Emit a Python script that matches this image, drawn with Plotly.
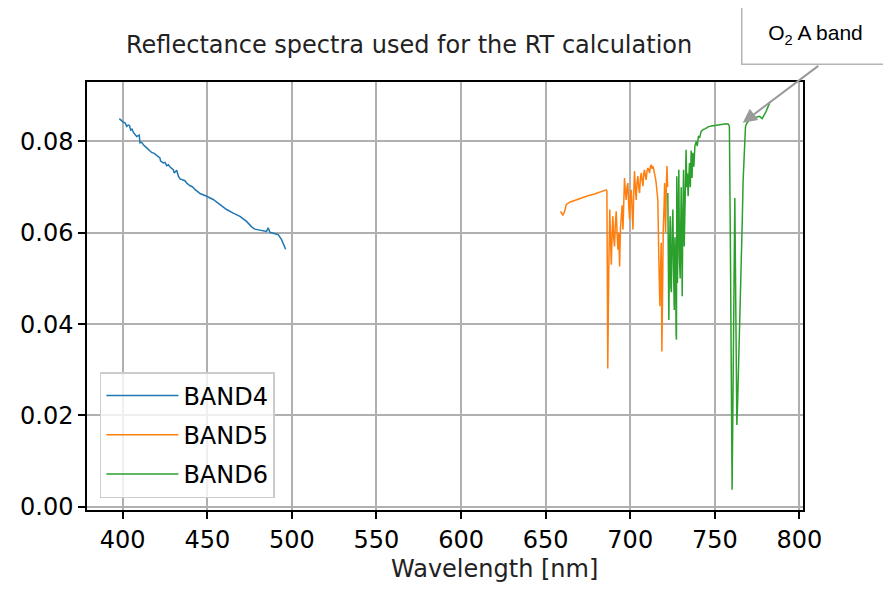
import plotly.graph_objects as go

# ---------------- data ----------------
band4_wl = [398.0, 399.4, 400.4, 401.4, 402.4, 403.2, 404.0, 404.7, 405.5, 406.3, 407.3, 408.3, 409.8, 410.2,
            411.2, 412.2, 414.2, 415.5, 417.1, 418.6, 420.1, 421.0, 422.0, 422.4, 424.0, 425.0, 426.0, 427.0,
            428.0, 429.9, 430.5, 431.9, 432.9, 433.9, 435.8, 436.8, 437.8, 439.8, 441.2, 442.7, 445.7, 447.5,
            449.6, 453.5, 457.5, 461.4, 465.3, 469.3, 473.2, 476.2, 478.1, 482.1, 485.0, 486.0, 487.0, 490.0,
            491.9, 493.9, 496.3]
band4_refl = [0.0850, 0.0844, 0.0842, 0.0841, 0.0833, 0.0836, 0.0835, 0.0825, 0.0827, 0.0820, 0.0816, 0.0811, 0.0814, 0.0797,
              0.0798, 0.0793, 0.0786, 0.0782, 0.0776, 0.0774, 0.0769, 0.0768, 0.0764, 0.0757, 0.0753, 0.0754, 0.0747, 0.0749,
              0.0744, 0.0738, 0.0731, 0.0737, 0.0724, 0.0718, 0.0716, 0.0714, 0.0709, 0.0703, 0.0701, 0.0695, 0.0686, 0.0684,
              0.0680, 0.0673, 0.0662, 0.0651, 0.0643, 0.0636, 0.0625, 0.0613, 0.0608, 0.0605, 0.0603, 0.0611, 0.0601, 0.0598,
              0.0596, 0.0585, 0.0564]

band5_wl = [658.8, 659.6, 660.2, 661.2, 662.2, 664.2, 667.0, 671.0, 675.0, 678.9, 682.5, 685.8,
            686.2, 686.7, 687.3, 687.9, 688.3, 688.8, 689.3, 689.7, 690.2, 690.7, 691.2, 691.7, 692.2, 692.7,
            693.2, 693.7, 694.2, 694.7, 695.2, 695.7, 696.2, 696.6, 697.1, 697.6, 698.1, 698.6, 699.1, 699.6,
            700.1, 700.6, 701.1, 701.6, 702.0, 702.5, 703.0, 703.5, 704.0, 704.5, 705.0, 705.5, 706.0, 706.5,
            707.0, 707.5, 708.0, 708.4, 708.9, 709.4, 709.9, 710.4, 710.9, 711.4, 711.9, 712.4, 712.9, 713.4,
            713.9, 714.4, 714.9, 715.3, 715.8, 716.3, 716.9, 717.2, 717.5, 717.9, 718.3, 718.7, 719.1, 719.5,
            720.0, 720.3, 720.6, 720.9, 721.3, 721.7, 722.1]
band5_refl = [0.0647, 0.0642, 0.0638, 0.0647, 0.0662, 0.0667, 0.0671, 0.0676, 0.0681, 0.0685, 0.0690, 0.0694,
              0.0691, 0.0303, 0.0520, 0.0651, 0.0590, 0.0530, 0.0600, 0.0636, 0.0590, 0.0570, 0.0620, 0.0647, 0.0600, 0.0563,
              0.0600, 0.0526, 0.0610, 0.0643, 0.0660, 0.0607, 0.0650, 0.0720, 0.0690, 0.0672, 0.0700, 0.0709, 0.0660, 0.0629,
              0.0680, 0.0694, 0.0650, 0.0607, 0.0680, 0.0735, 0.0700, 0.0672, 0.0710, 0.0724, 0.0700, 0.0687, 0.0720, 0.0731,
              0.0715, 0.0702, 0.0730, 0.0738, 0.0725, 0.0716, 0.0735, 0.0742, 0.0738, 0.0731, 0.0745, 0.0749, 0.0740, 0.0746,
              0.0738, 0.0731, 0.0720, 0.0709, 0.0690, 0.0672, 0.0540, 0.0504, 0.0439, 0.0520, 0.0578, 0.0340, 0.0500, 0.0607,
              0.0660, 0.0709, 0.0650, 0.0600, 0.0700, 0.0746, 0.0700]

band6_wl = [722.2, 722.6, 722.8, 723.2, 723.6, 724.0, 724.3, 724.8, 725.2, 725.6, 726.0, 726.4, 726.8, 727.1,
            727.3, 727.5, 727.9, 728.3, 728.7, 729.1, 729.5, 730.1, 730.5, 730.7, 731.1, 731.5, 731.9, 732.3,
            733.0, 733.4, 733.8, 734.2, 735.0, 735.5, 736.0, 736.5, 737.0, 737.6, 738.2, 739.0, 739.6, 740.3,
            741.0, 741.9, 743.0, 744.5, 746.0, 748.0, 750.8, 753.5, 756.7, 758.0, 758.6, 759.2, 760.2, 761.8,
            763.0, 763.5, 763.9, 764.3, 764.7, 765.1, 765.9, 766.2, 766.7, 767.5, 768.1, 768.9, 770.5, 773.4,
            776.4, 778.0, 779.3, 780.3, 782.3, 782.9]
band6_refl = [0.0687, 0.0500, 0.0409, 0.0560, 0.0636, 0.0480, 0.0470, 0.0610, 0.0651, 0.0520, 0.0431, 0.0590, 0.0530, 0.0380,
              0.0366, 0.0724, 0.0490, 0.0620, 0.0738, 0.0540, 0.0500, 0.0700, 0.0520, 0.0461, 0.0640, 0.0738, 0.0570, 0.0680,
              0.0782, 0.0700, 0.0730, 0.0680, 0.0753, 0.0700, 0.0780, 0.0720, 0.0775, 0.0745, 0.0790, 0.0800, 0.0790, 0.0812,
              0.0808, 0.0822, 0.0826, 0.0828, 0.0832, 0.0834, 0.0836, 0.0838, 0.0839, 0.0838, 0.0833, 0.0563, 0.0037, 0.0676,
              0.0179, 0.0234, 0.0285, 0.0373, 0.0402, 0.0490, 0.0563, 0.0625, 0.0713, 0.0786, 0.0833, 0.0840, 0.0848, 0.0852,
              0.0855, 0.0850, 0.0859, 0.0866, 0.0884, 0.0888]

band_names = ["BAND4", "BAND5", "BAND6"]
band_colors = ["#1f77b4", "#ff7f0e", "#2ca02c"]
x_ticks = [400, 450, 500, 550, 600, 650, 700, 750, 800]
y_ticks = [0.00, 0.02, 0.04, 0.06, 0.08]

title_text = "Reflectance spectra used for the RT calculation"
xlabel_text = "Wavelength [nm]"
annot_text = "O<sub>2</sub> A band"
annot_wl, annot_refl = 766.5, 0.0841

# ---------------- figure ----------------
FONT = "DejaVu Sans, sans-serif"
fig = go.Figure()
for wl, rf, name, col in zip([band4_wl, band5_wl, band6_wl],
                             [band4_refl, band5_refl, band6_refl],
                             band_names, band_colors):
    fig.add_trace(go.Scatter(x=wl, y=rf, mode="lines", name=name, legendgroup=name,
                             line=dict(color=col, width=1.5)))

axis_common = dict(showline=True, linecolor="black", linewidth=1.5, mirror=True,
                   ticks="outside", ticklen=7, tickwidth=1.5, tickcolor="black",
                   showgrid=True, gridcolor="#b0b0b0", gridwidth=1.5, zeroline=False,
                   tickfont=dict(family=FONT, size=24, color="black"))

# page has an 8 px body margin, so the figure is drawn 8 px smaller
PW, PH = 716.5, 428.0   # plot area size in px
fig.update_layout(
    width=883, height=584,
    margin=dict(l=79, r=87.5, t=74, b=82),
    paper_bgcolor="white", plot_bgcolor="white",
    showlegend=True,
    legend=dict(x=0.018, y=0.028, xanchor="left", yanchor="bottom",
                bgcolor="rgba(255,255,255,0.8)", bordercolor="#cccccc", borderwidth=1.5,
                font=dict(family=FONT, size=24, color="black"),
                tracegroupgap=5, itemwidth=72),
    xaxis=dict(range=[378.9, 802.1], tickvals=x_ticks, **axis_common),
    yaxis=dict(range=[-0.00072, 0.09303], tickvals=y_ticks, tickformat=".2f", **axis_common),
    annotations=[
        dict(text=title_text, xref="paper", yref="paper", x=(409.5 - 87) / PW, y=(510 - 45) / PH,
             xanchor="center", yanchor="middle", showarrow=False,
             font=dict(family=FONT, size=24, color="#222")),
        dict(text=xlabel_text, xref="paper", yref="paper", x=(495 - 87) / PW, y=(510 - 569) / PH,
             xanchor="center", yanchor="middle", showarrow=False,
             font=dict(family=FONT, size=24, color="#222")),
        dict(text="", x=annot_wl, y=annot_refl, xref="x", yref="y", showarrow=True,
             ax=77, ay=-58, arrowhead=2, arrowsize=1.4, arrowwidth=2, arrowcolor="#9a9a9a"),
        dict(text=annot_text, xref="paper", yref="paper", x=(816 - 87) / PW, y=(510 - 34.5) / PH,
             xanchor="center", yanchor="middle", showarrow=False, width=146, height=58,
             bgcolor="white", bordercolor="#b5b5b5", borderwidth=1.5, borderpad=0,
             font=dict(family="Liberation Sans, Arial, sans-serif", size=21, color="black")),
    ],
)

fig.write_html("out.html")
